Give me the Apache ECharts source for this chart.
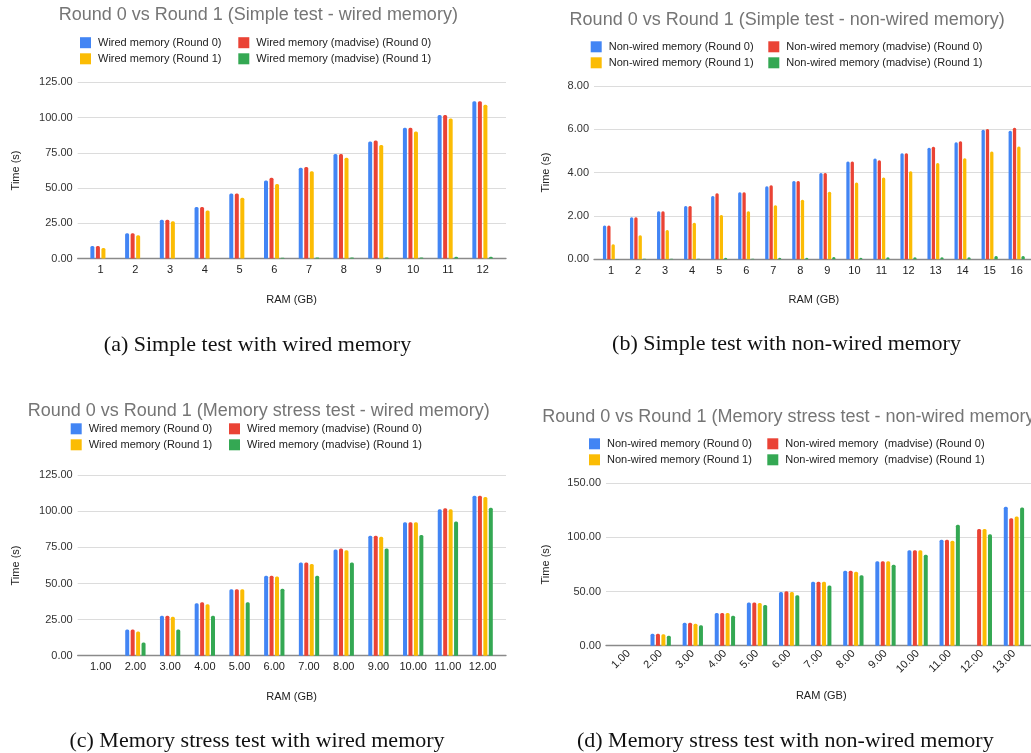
<!DOCTYPE html>
<html><head><meta charset="utf-8">
<script src="https://cdn.jsdelivr.net/npm/echarts@6/dist/echarts.min.js"></script>
<style>html,body{margin:0;padding:0;background:#fff}#c{width:1031px;height:753px}</style>
</head><body><div id="c"></div>
<script>
// ---------- DATA ----------
const catsA = ['1','2','3','4','5','6','7','8','9','10','11','12'];
const aWiredR0        = [8.9, 17.9, 27.6, 36.5, 46.2, 55.4, 64.4, 74.1, 83.1, 92.7, 101.8, 111.5];
const aWiredMadvR0    = [8.9, 17.9, 27.6, 36.5, 46.2, 57.3, 65.0, 74.1, 83.8, 92.7, 101.8, 111.5];
const aWiredR1        = [7.6, 16.6, 26.4, 34.1, 43.1, 52.9, 61.9, 71.5, 80.5, 90.2, 99.3, 109.0];
const aWiredMadvR1    = [0, 0, 0, 0, 0, 0.6, 0.7, 0.7, 0.8, 0.8, 1.3, 1.4];

const catsB = ['1','2','3','4','5','6','7','8','9','10','11','12','13','14','15','16'];
const bNonWiredR0     = [1.56, 1.94, 2.22, 2.46, 2.92, 3.09, 3.37, 3.62, 3.98, 4.52, 4.65, 4.89, 5.15, 5.40, 5.98, 5.93];
const bNonWiredMadvR0 = [1.56, 1.94, 2.22, 2.46, 3.05, 3.09, 3.42, 3.62, 3.98, 4.52, 4.57, 4.89, 5.20, 5.45, 6.02, 6.07];
const bNonWiredR1     = [0.69, 1.11, 1.35, 1.69, 2.05, 2.22, 2.49, 2.75, 3.12, 3.54, 3.78, 4.06, 4.45, 4.66, 4.98, 5.21];
const bNonWiredMadvR1 = [0.01, 0.03, 0.03, 0.03, 0.07, 0.03, 0.07, 0.07, 0.11, 0.07, 0.10, 0.10, 0.10, 0.10, 0.15, 0.15];

const catsC = ['1.00','2.00','3.00','4.00','5.00','6.00','7.00','8.00','9.00','10.00','11.00','12.00'];
const cWiredR0        = [null, 18.2, 27.6, 36.3, 46.0, 55.4, 64.6, 73.6, 83.2, 92.4, 101.4, 110.8];
const cWiredMadvR0    = [null, 18.2, 27.6, 37.1, 46.0, 55.4, 64.6, 74.3, 83.2, 92.4, 102.1, 110.8];
const cWiredR1        = [null, 16.8, 27.0, 35.7, 46.0, 54.8, 63.5, 73.0, 82.5, 92.4, 101.4, 110.0];
const cWiredMadvR1    = [null, 9.2, 18.2, 27.6, 37.1, 46.4, 55.4, 64.6, 74.2, 83.6, 93.0, 102.5];

const catsD = ['1.00','2.00','3.00','4.00','5.00','6.00','7.00','8.00','9.00','10.00','11.00','12.00','13.00'];
const dNonWiredR0     = [null, 11.1, 21.2, 30.2, 40.0, 49.6, 59.1, 69.3, 77.9, 88.1, 97.9, null, 128.4];
const dNonWiredMadvR0 = [null, 11.1, 21.2, 30.2, 40.0, 50.2, 59.1, 69.3, 77.9, 88.1, 97.9, 107.8, 117.7];
const dNonWiredR1     = [null, 10.5, 20.3, 30.2, 39.4, 49.6, 59.1, 68.4, 77.9, 88.1, 97.0, 107.8, 119.3];
const dNonWiredMadvR1 = [null, 9.2, 18.8, 27.7, 37.6, 46.5, 55.7, 65.0, 74.8, 84.1, 111.8, 102.9, 127.6];

const namesA = ['Wired memory (Round 0)','Wired memory (madvise) (Round 0)','Wired memory (Round 1)','Wired memory (madvise) (Round 1)'];
const namesB = ['Non-wired memory (Round 0)','Non-wired memory (madvise) (Round 0)','Non-wired memory (Round 1)','Non-wired memory (madvise) (Round 1)'];
const namesD = ['Non-wired memory (Round 0)','Non-wired memory  (madvise) (Round 0)','Non-wired memory (Round 1)','Non-wired memory  (madvise) (Round 1)'];

const titles = [
  'Round 0 vs Round 1 (Simple test - wired memory)',
  'Round 0 vs Round 1 (Simple test - non-wired memory)',
  'Round 0 vs Round 1 (Memory stress test - wired memory)',
  'Round 0 vs Round 1 (Memory stress test - non-wired memory)'
];
const captions = [
  '(a) Simple test with wired memory',
  '(b) Simple test with non-wired memory',
  '(c) Memory stress test with wired memory',
  '(d) Memory stress test with non-wired memory'
];
const yAxisName = 'Time (s)';
const xAxisName = 'RAM (GB)';

// ---------- LAYOUT ----------
const FONT = 'Arial, "Liberation Sans", sans-serif';
const SERIF = '"Liberation Serif", "Times New Roman", serif';
const COLORS = ['#4285F4', '#EA4335', '#FBBC04', '#34A853'];

const panels = [
  { cats: catsA, names: namesA, data: [aWiredR0, aWiredMadvR0, aWiredR1, aWiredMadvR1], max: 125, interval: 25,
    bgL: 77.7, bgW: 428.3, plL: 83.3, plW: 416.7, top: 82.3, y0: 258.6, yGap: 56, xGap: 36, rotate: 0,
    bw: 4, bg: '38%', lc: [80, 238.3], lr: [42.2, 58.3], tx: 258.3, ty: 14.5, talign: 'center', cx: 257.5, cy: 345 },
  { cats: catsB, names: namesB, data: [bNonWiredR0, bNonWiredMadvR0, bNonWiredR1, bNonWiredMadvR1], max: 8, interval: 2,
    bgL: 594, bgW: 437, plL: 597.5, plW: 432.7, top: 86, y0: 259.3, yGap: 43, xGap: 35, rotate: 0,
    bw: 3.3, bg: '30%', lc: [590.7, 768.3], lr: [46.3, 62.3], tx: 787.2, ty: 19, talign: 'center', cx: 786.5, cy: 344.5 },
  { cats: catsC, names: namesA, data: [cWiredR0, cWiredMadvR0, cWiredR1, cWiredMadvR1], max: 125, interval: 25,
    bgL: 77.7, bgW: 428.3, plL: 83.3, plW: 416.7, top: 475.3, y0: 655.7, yGap: 56, xGap: 36, rotate: 0,
    bw: 4, bg: '36%', lc: [70.7, 229], lr: [428.3, 444.3], tx: 258.7, ty: 410, talign: 'center', cx: 257, cy: 741.5 },
  { cats: catsD, names: namesD, data: [dNonWiredR0, dNonWiredMadvR0, dNonWiredR1, dNonWiredMadvR1], max: 150, interval: 50,
    bgL: 606, bgW: 425, plL: 612.5, plW: 417.5, top: 483.3, y0: 645.7, yGap: 55, xGap: 45, rotate: 45,
    bw: 4, bg: '36%', lc: [589, 767.3], lr: [443.3, 459.3], tx: 542.3, ty: 416, talign: 'left', cx: 785.3, cy: 741.5 }
];

const grid = [], xAxis = [], yAxis = [], series = [], legend = [], title = [], graphic = [];

panels.forEach((p, i) => {
  const h = p.y0 - p.top;
  const gBg = 2 * i, gPl = 2 * i + 1;
  grid.push({ left: p.bgL, top: p.top, width: p.bgW, height: h });
  grid.push({ left: p.plL, top: p.top, width: p.plW, height: h });

  xAxis.push({ gridIndex: gBg, type: 'value', min: 0, max: 1,
    axisLine: { show: true, lineStyle: { color: '#8a8a8a', width: 1.3 } },
    axisTick: { show: false }, axisLabel: { show: false }, splitLine: { show: false } });
  yAxis.push({ gridIndex: gBg, type: 'value', min: 0, max: p.max, interval: p.interval,
    axisLine: { show: false }, axisTick: { show: false },
    axisLabel: { margin: 5, fontSize: 11, color: '#333', fontFamily: FONT, formatter: v => v.toFixed(2) },
    splitLine: { show: true, lineStyle: { color: '#dcdcdc', width: 1 } },
    name: yAxisName, nameLocation: 'middle', nameGap: p.yGap, nameRotate: 90,
    nameTextStyle: { fontSize: 11, color: '#222', fontFamily: FONT } });

  xAxis.push({ gridIndex: gPl, type: 'category', data: p.cats,
    axisLine: { show: false }, axisTick: { show: false },
    axisLabel: { margin: 6, fontSize: 11, color: '#222', fontFamily: FONT, rotate: p.rotate, interval: 0 },
    name: xAxisName, nameLocation: 'middle', nameGap: p.xGap,
    nameTextStyle: { fontSize: 11, color: '#222', fontFamily: FONT } });
  yAxis.push({ gridIndex: gPl, type: 'value', min: 0, max: p.max, show: false });

  p.names.forEach((n, k) => {
    series.push({ type: 'bar', name: n, xAxisIndex: gPl, yAxisIndex: gPl, data: p.data[k],
      barWidth: p.bw, barGap: p.bg, itemStyle: { color: COLORS[k], borderRadius: [1.5, 1.5, 0, 0] },
      silent: true, animation: false });
    const col = k % 2, row = Math.floor(k / 2);
    legend.push({ data: [n], left: p.lc[col], top: p.lr[row] - 5, padding: 0,
      itemWidth: 11, itemHeight: 11, icon: 'rect', selectedMode: false,
      textStyle: { fontSize: 11, color: '#222', fontFamily: FONT, padding: [0, 0, 0, 2] } });
  });

  title.push({ text: titles[i], left: p.tx, top: p.ty - 8, textAlign: p.talign, padding: 0,
    textStyle: { fontSize: 18, fontWeight: 'normal', color: '#757575', fontFamily: FONT } });

  graphic.push({ type: 'text', x: p.cx, y: p.cy,
    style: { text: captions[i], fill: '#111', font: '22px ' + SERIF, textAlign: 'center', textVerticalAlign: 'middle' } });
});

const chart = echarts.init(document.getElementById('c'), null, { renderer: 'canvas' });
chart.setOption({ animation: false, backgroundColor: '#fff', title, legend, grid, xAxis, yAxis, series, graphic });
</script></body></html>
